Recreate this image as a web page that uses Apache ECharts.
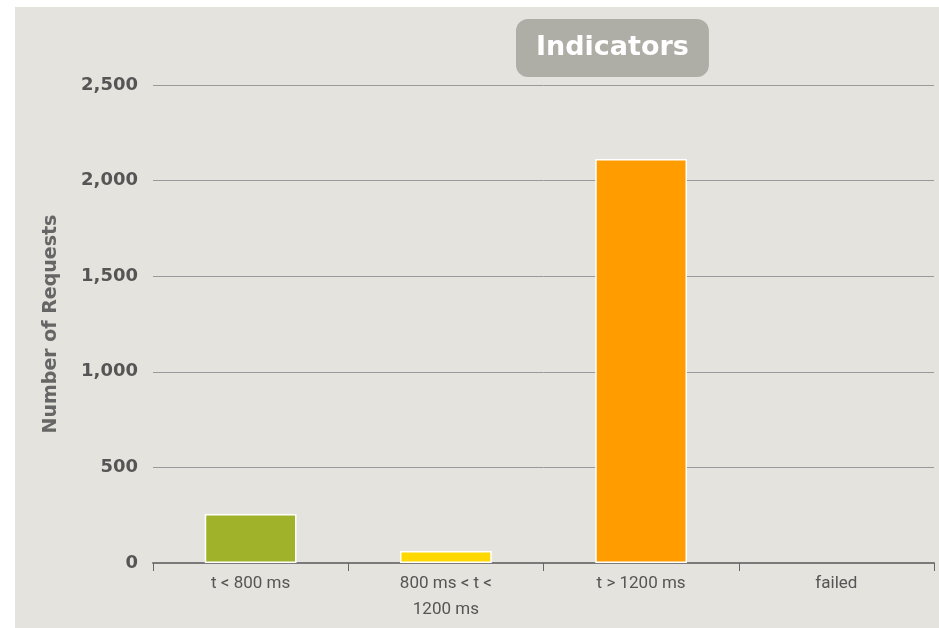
<!DOCTYPE html>
<html>
<head>
<meta charset="utf-8">
<script src="https://cdn.jsdelivr.net/npm/echarts@6/dist/echarts.min.js"></script>
<style>
  html, body { margin: 0; padding: 0; background: #fff; }
  #chart { position: absolute; left: 15px; top: 7px; width: 924px; height: 621px; background: #e4e3de; }
</style>
</head>
<body>
<div id="chart"></div>
<script>
// data
const categories = ['t < 800 ms', '800 ms < t <\n1200 ms', 't > 1200 ms', 'failed'];
const requests = [256, 63, 2113, 0];
const barColors = ['#a0b22a', '#ffd800', '#ff9c00', '#c0c0c0'];

const chart = echarts.init(document.getElementById('chart'));

chart.setOption({
  backgroundColor: '#e4e3de',
  animation: false,
  title: {
    text: 'Indicators',
    left: 501,
    top: 12,
    padding: [15, 20, 16, 20],
    backgroundColor: '#aeada6',
    borderRadius: 12,
    textStyle: {
      color: '#ffffff',
      fontFamily: 'DejaVu Sans',
      fontWeight: 'bold',
      fontSize: 27
    }
  },
  grid: {
    left: 138,
    right: 5,
    top: 78,
    bottom: 65,
    containLabel: false
  },
  xAxis: {
    type: 'category',
    data: categories,
    axisLine: { lineStyle: { color: '#7a7a7a', width: 2 } },
    axisTick: { show: true, interval: 0, length: 8, lineStyle: { color: '#666', width: 1 } },
    axisLabel: {
      color: '#555',
      fontFamily: 'Liberation Sans Narrow, Roboto, sans-serif',
      fontSize: 17,
      lineHeight: 26,
      margin: 8
    }
  },
  yAxis: {
    type: 'value',
    min: 0,
    max: 2500,
    interval: 500,
    name: 'Number of Requests',
    nameLocation: 'middle',
    nameGap: 92,
    nameRotate: 90,
    nameTextStyle: {
      color: '#666',
      fontFamily: 'DejaVu Sans',
      fontWeight: 'bold',
      fontSize: 19
    },
    axisLine: { show: false },
    axisTick: { show: false },
    axisLabel: {
      color: '#555',
      fontFamily: 'DejaVu Sans',
      fontWeight: 'bold',
      fontSize: 18,
      margin: 15,
      formatter: v => v.toLocaleString('en-US')
    },
    splitLine: { lineStyle: { color: '#9a9a9a', width: 1 } }
  },
  series: [{
    type: 'bar',
    data: requests.map((v, i) => ({
      value: v,
      itemStyle: { color: barColors[i], borderWidth: v > 0 ? 1.5 : 0 }
    })),
    barWidth: '47%',
    itemStyle: { borderColor: '#ffffff', borderWidth: 1.5 }
  }]
});
</script>
</body>
</html>
